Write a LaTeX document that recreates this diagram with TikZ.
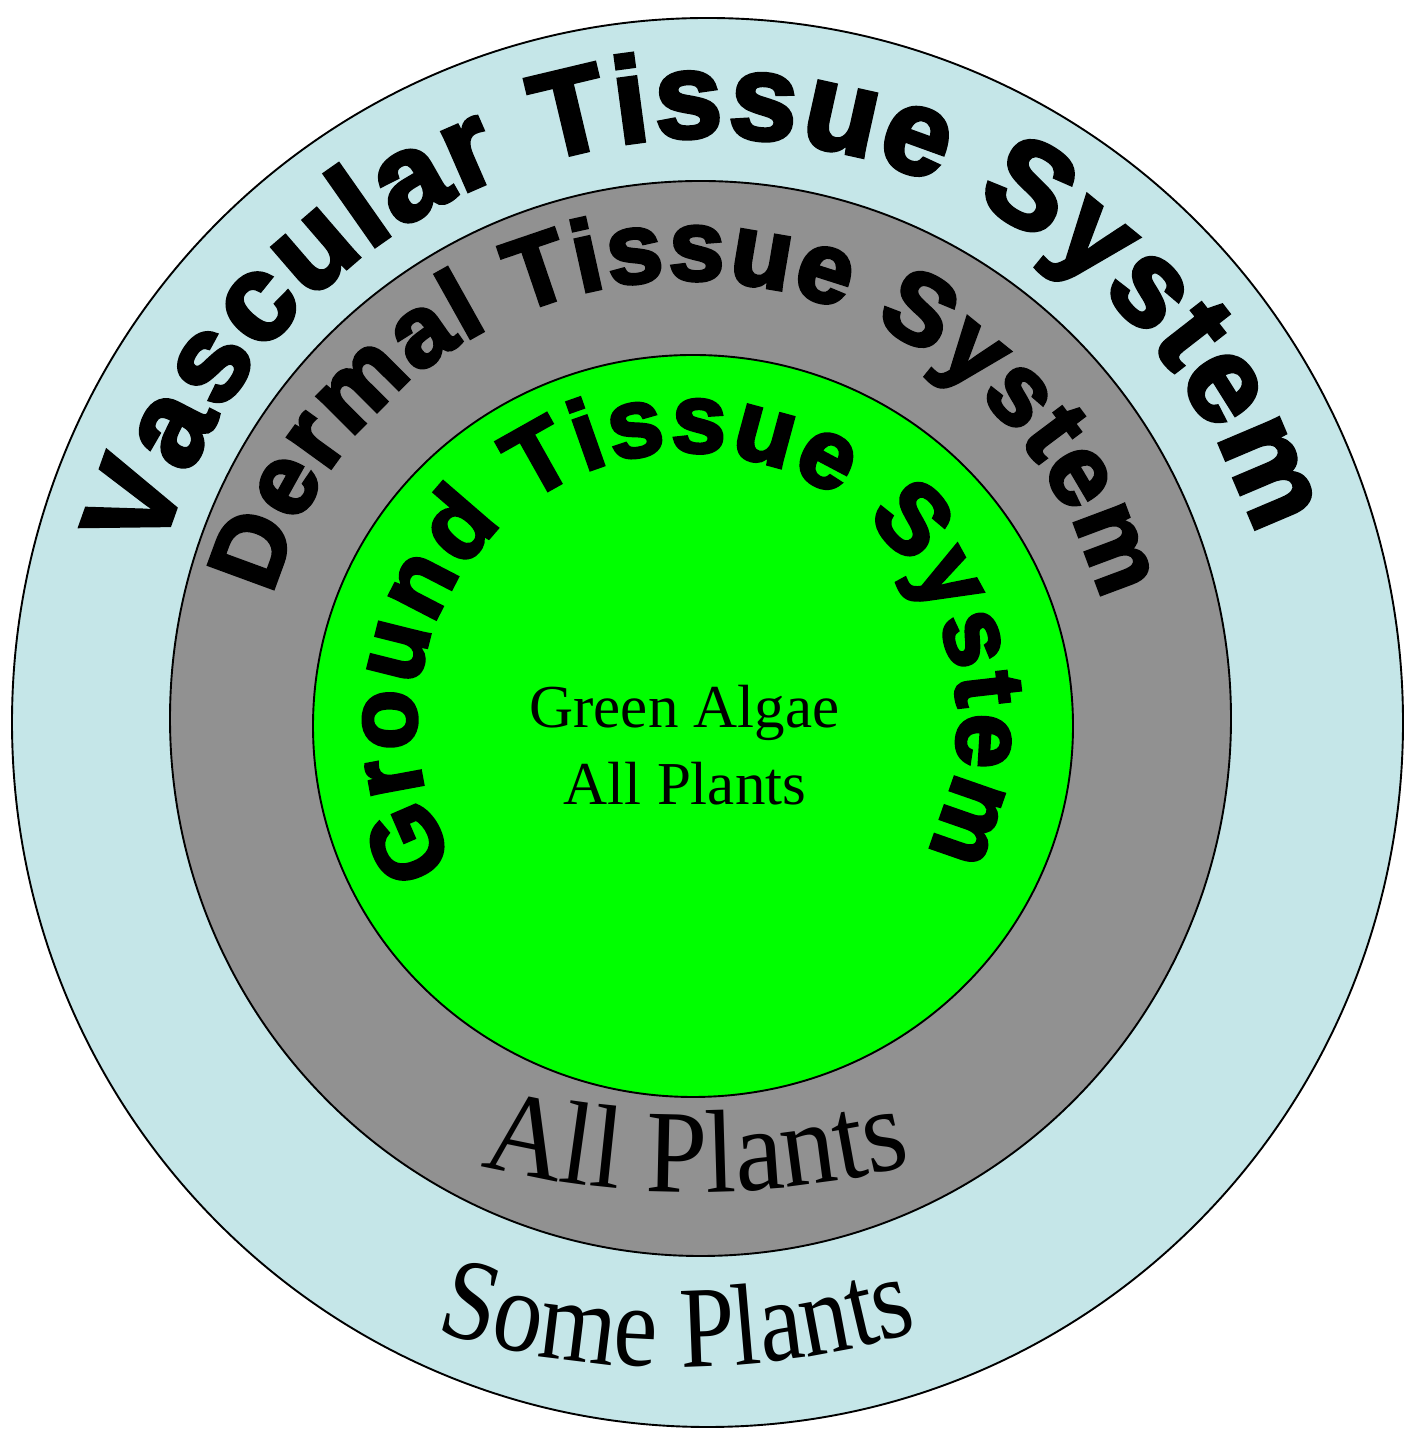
\documentclass[tikz,border=0pt]{standalone}
\usepackage{fontspec}
\setmainfont{Liberation Serif}
\newfontfamily\arcfont{Liberation Sans}[FakeBold=3.6]
\newfontfamily\allfont{Liberation Serif}[FakeStretch=0.93]
\newfontfamily\somefont{Liberation Serif}[FakeStretch=0.85]
\usetikzlibrary{decorations.text}
\definecolor{vasc}{HTML}{C5E6E8}
\definecolor{derm}{HTML}{919191}
\definecolor{grnd}{HTML}{00FF00}
\tikzset{
  ring/.style={draw=black, line width=1.9pt},
  inlabel/.style={anchor=base, inner sep=0pt, font=\fontsize{61}{61}\selectfont}
}
\begin{document}
\begin{tikzpicture}[x=1pt,y=1pt]
\useasboundingbox (0,0) rectangle (1405,1429);
% rings
\path[ring, fill=vasc] (707.5,706.5) ellipse [x radius=695.5, y radius=704.5];
\path[ring, fill=derm] (700.5,710.5) ellipse [x radius=530.5, y radius=537.5];
\path[ring, fill=grnd] (693,703) ellipse [x radius=380, y radius=371];
% arc titles
\path[decorate, decoration={text along path,
  text={|\arcfont\bfseries\fontsize{121}{121}\selectfont|Vascular Tissue System},
  text align=fit to path}]
  (711,720) ++(164.4:572) arc[start angle=164.4, end angle=17.6, radius=572];
\path[decorate, decoration={text along path,
  text={|\arcfont\bfseries\fontsize{100}{100}\selectfont|Dermal Tissue System},
  text align=fit to path}]
  (686,720) ++(164.6:429) arc[start angle=164.6, end angle=14.6, radius=429];
\path[decorate, decoration={text along path,
  text={|\arcfont\bfseries\fontsize{98}{98}\selectfont|Ground Tissue System},
  text align=fit to path}]
  (687,706) ++(211.4:271) arc[start angle=211.4, end angle=-28.4, radius=271];
% bottom labels
\path[decorate, decoration={text along path,
  text={|\allfont\fontsize{118}{118}\selectfont|All Plants},
  text align=center}]
  (696,1124) ++(250:887) arc[start angle=250, end angle=290, radius=887];
\path[decorate, decoration={text along path,
  text={|\somefont\fontsize{116}{116}\selectfont|Some Plants},
  text align=center}]
  (677,901) ++(250:839) arc[start angle=250, end angle=290, radius=839];
% centre text
\node[inlabel] (ga) at (684.5,701) {Green Algae};
\node[inlabel] (ap) at (685,624) {All Plants};
\end{tikzpicture}
\end{document}
